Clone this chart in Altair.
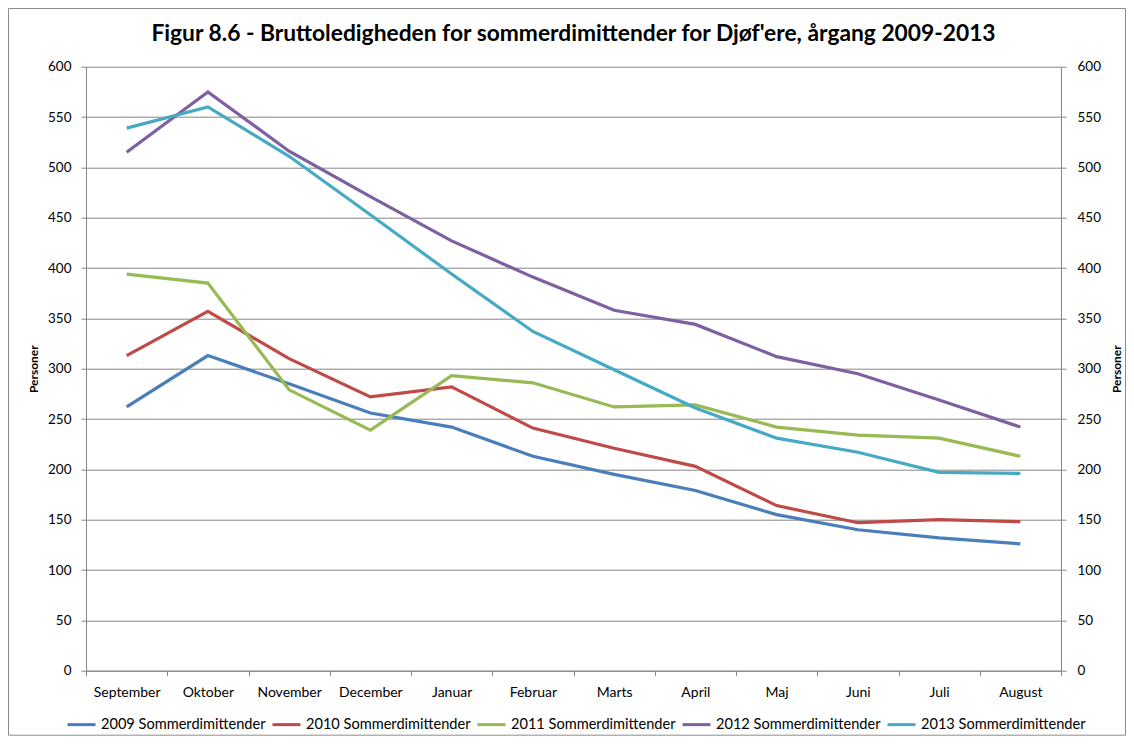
import altair as alt
import pandas as pd

months = ["September", "Oktober", "November", "December", "Januar", "Februar",
          "Marts", "April", "Maj", "Juni", "Juli", "August"]
series_names = ["2009 Sommerdimittender", "2010 Sommerdimittender",
                "2011 Sommerdimittender", "2012 Sommerdimittender",
                "2013 Sommerdimittender"]
y2009 = [262, 313, 285, 256, 242, 213, 195, 179, 155, 140, 132, 126]
y2010 = [313, 357, 310, 272, 282, 241, 221, 203, 164, 147, 150, 148]
y2011 = [394, 385, 279, 239, 293, 286, 262, 264, 242, 234, 231, 213]
y2012 = [515, 575, 516, 471, 427, 391, 358, 344, 312, 295, 269, 242]
y2013 = [539, 560, 511, 453, 394, 337, 299, 261, 231, 217, 197, 196]
colors = ["#4A7EBB", "#BE4B48", "#98B954", "#7D60A0", "#46AAC5"]
y_ticks = list(range(0, 601, 50))

rows = []
for name, vals in zip(series_names, [y2009, y2010, y2011, y2012, y2013]):
    for m, v in zip(months, vals):
        rows.append({"Måned": m, "Serie": name, "Personer": v})
df = pd.DataFrame(rows)

FONT = "Lato"
GRID = "#868686"
W, H = 975, 604

x_enc = alt.X(
    "Måned:N", sort=months, title=None,
    scale=alt.Scale(type="band", paddingInner=0, paddingOuter=0),
    bandPosition=0.5,
    axis=alt.Axis(tickBand="extent", labelAngle=0, domainColor=GRID,
                  tickColor=GRID, tickSize=5, labelPadding=10,
                  labelFontSize=14, labelColor="black", labelFont=FONT,
                  grid=False),
)
yscale = alt.Scale(domain=[0, 600], nice=False, zero=True)

lines = alt.Chart(df).mark_line(strokeWidth=3.2).encode(
    x=x_enc,
    y=alt.Y("Personer:Q", scale=yscale,
            axis=alt.Axis(values=y_ticks, orient="left", title="Personer",
                          titleFont=FONT, titleFontSize=12, titleFontWeight="bold",
                          titleColor="black", titlePadding=7,
                          grid=True, gridColor=GRID, gridWidth=1,
                          domainColor=GRID, tickColor=GRID, tickSize=5,
                          labelPadding=10, labelFont=FONT, labelFontSize=13.5,
                          labelColor="black")),
    color=alt.Color("Serie:N", sort=series_names,
                    scale=alt.Scale(domain=series_names, range=colors),
                    legend=alt.Legend(title=None, orient="none", direction="horizontal",
                                      columns=5, legendX=-20, legendY=642,
                                      symbolType="stroke", symbolSize=784,
                                      symbolStrokeWidth=3, labelFont=FONT,
                                      labelFontSize=14.6, labelColor="black",
                                      labelLimit=400,
                                      labelOffset=4, columnPadding=0)),
)

right = alt.Chart(df).mark_line(opacity=0).encode(
    x=x_enc,
    y=alt.Y("Personer:Q", scale=yscale,
            axis=alt.Axis(values=y_ticks, orient="right", title="Personer",
                          titleFont=FONT, titleFontSize=12, titleFontWeight="bold",
                          titleColor="black", titleAngle=270, titlePadding=23,
                          grid=False, domainColor=GRID, tickColor=GRID, tickSize=5,
                          labelPadding=11, labelFont=FONT, labelFontSize=13.5,
                          labelColor="black")),
    detail="Serie:N",
)

border = alt.Chart(pd.DataFrame({"b": [0]})).mark_rect(
    fillOpacity=0, stroke="#8C8C8C", strokeWidth=1
).encode(
    x=alt.value(-77.5), x2=alt.value(W + 64.5),
    y=alt.value(-58.2), y2=alt.value(H + 64.5),
)

chart = alt.layer(border, lines, right).resolve_scale(y="independent").properties(
    width=W, height=H,
    title=alt.TitleParams(
        "Figur 8.6 - Bruttoledigheden  for sommerdimittender  for Djøf'ere, årgang 2009-2013",
        font=FONT, fontSize=22.8, fontWeight="bold", color="black",
        anchor="middle", offset=0, baseline="alphabetic", dy=55.5),
    autosize=alt.AutoSizeParams(type="none"),
    padding={"left": 78, "top": 58.7, "right": 65, "bottom": 65},
).configure_view(stroke=None)

chart.save("out.html", embed_options={"renderer": "svg", "actions": False})
